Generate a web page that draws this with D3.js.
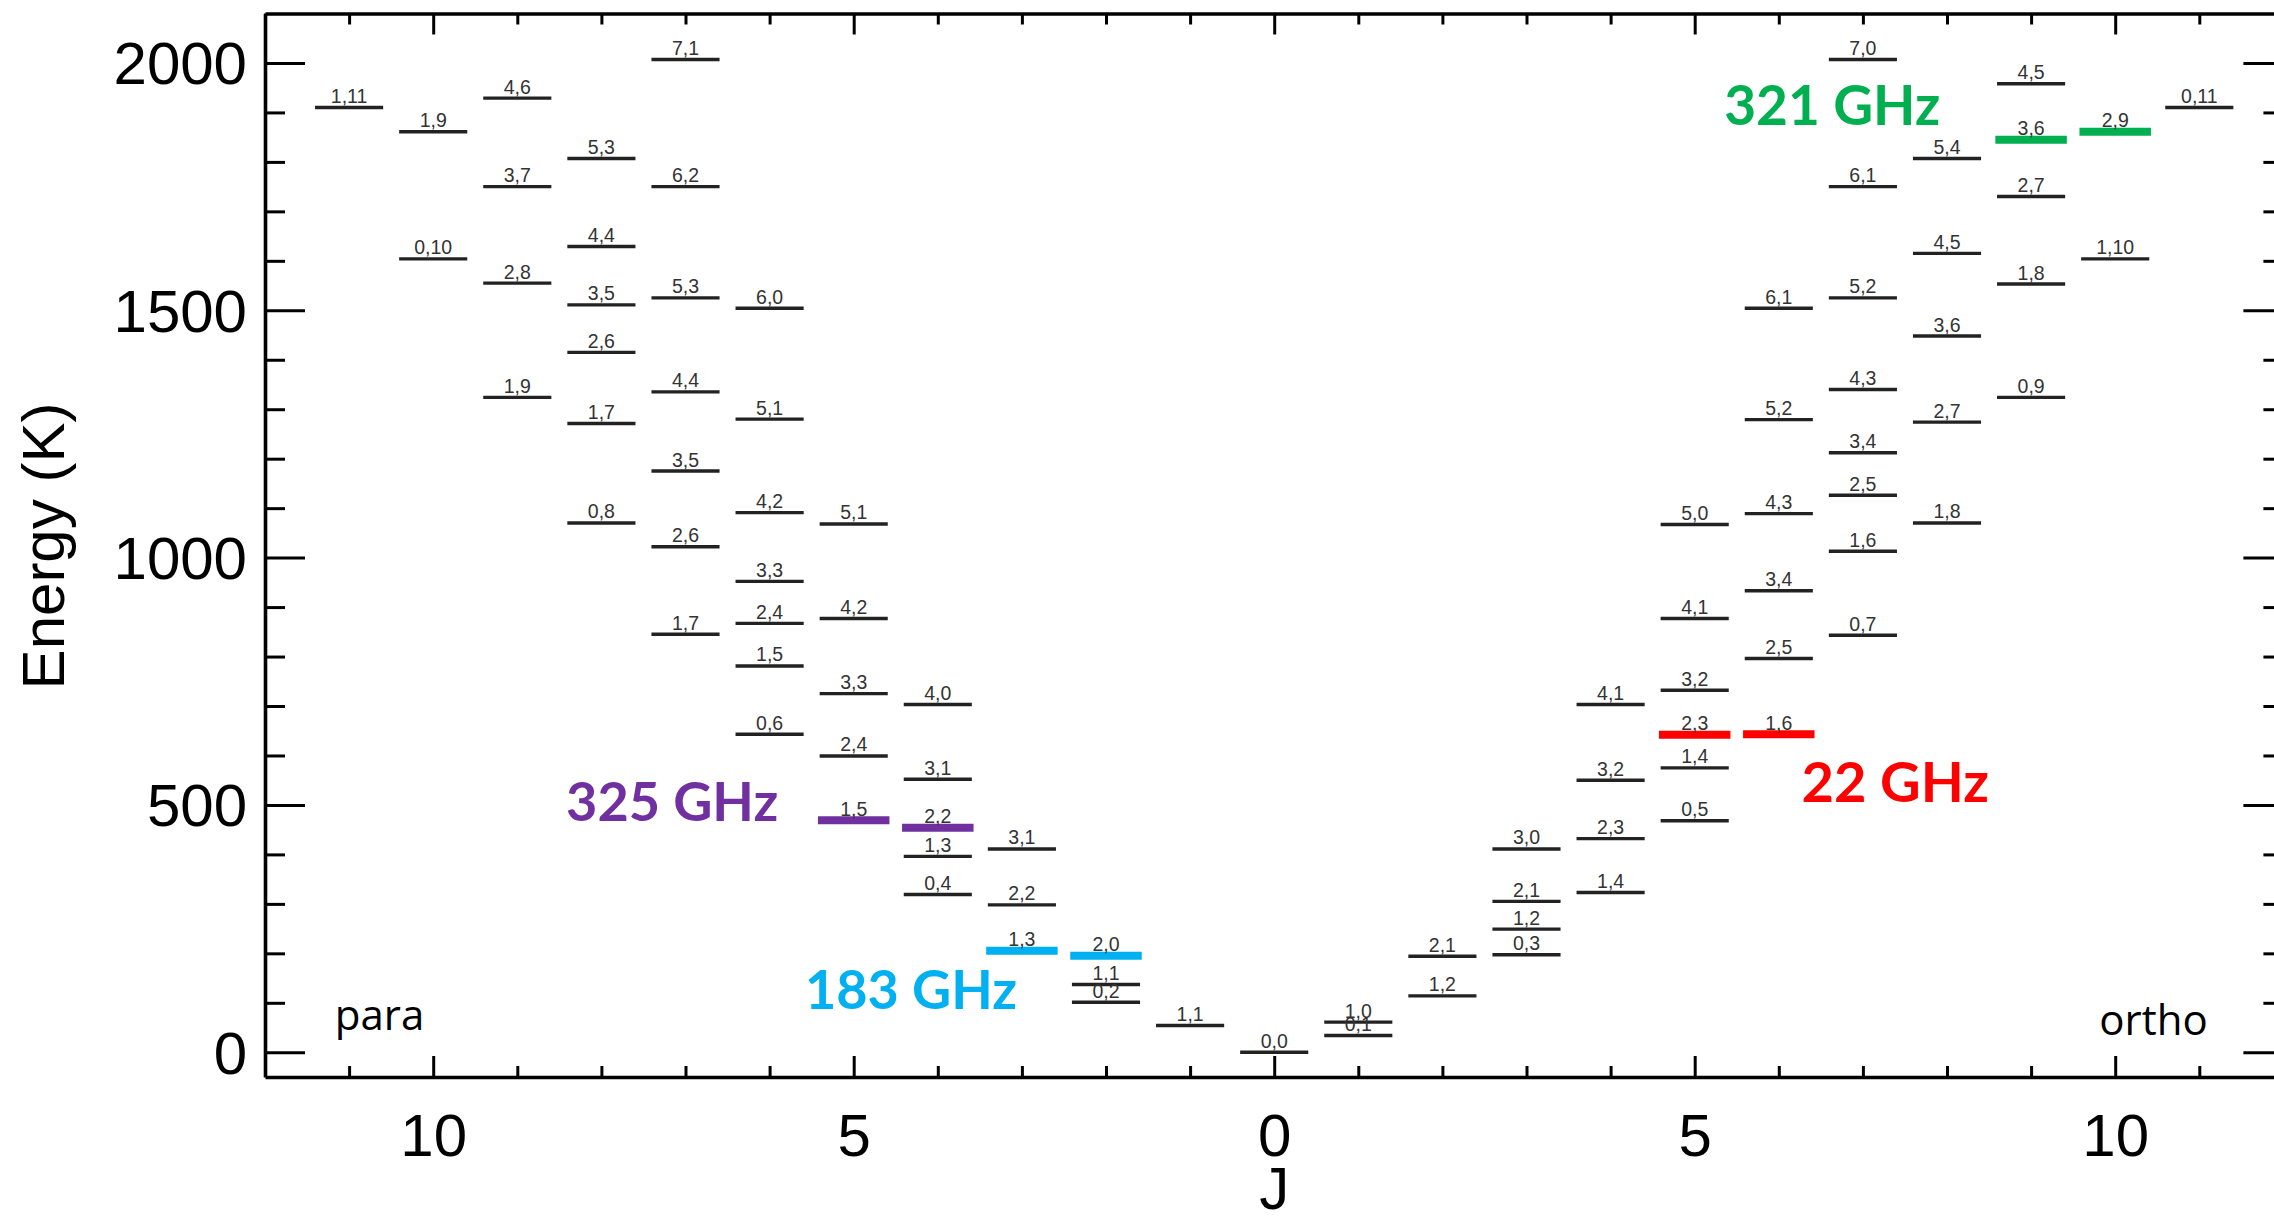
<!DOCTYPE html>
<html><head><meta charset="utf-8">
<script src="https://cdn.jsdelivr.net/npm/d3@7"></script>
<style>html,body{margin:0;padding:0;background:#fff;overflow:hidden}</style>
</head><body>
<svg id="chart" width="2274" height="1223"></svg>
<script>
// ---------- DATA ----------
// para levels (plotted on the left, at -J)
const paraJ     = [11, 10, 10, 9, 9, 9, 9, 8, 8, 8, 8, 8, 8, 7, 7, 7, 7, 7, 7, 7, 6, 6, 6, 6, 6, 6, 6, 5, 5, 5, 5, 5, 4, 4, 4, 4, 4, 3, 3, 3, 2, 2, 2, 1, 0];
const paraKaKc  = ["1,11","1,9","0,10","4,6","3,7","2,8","1,9","5,3","4,4","3,5","2,6","1,7","0,8","7,1","6,2","5,3","4,4","3,5","2,6","1,7","6,0","5,1","4,2","3,3","2,4","1,5","0,6","5,1","4,2","3,3","2,4","1,5","4,0","3,1","2,2","1,3","0,4","3,1","2,2","1,3","2,0","1,1","0,2","1,1","0,0"];
const paraE     = [1910, 1861, 1604, 1929, 1750, 1555, 1324, 1807, 1629, 1511, 1415, 1271, 1070, 2007, 1750, 1525, 1335, 1175, 1022, 845, 1504, 1280, 1091, 952, 867, 781, 643, 1068, 877, 725, 599, 469, 703, 552, 454, 396, 319, 411, 298, 205, 195, 137, 101, 54, 0];

// ortho levels (plotted on the right, at +J)
const orthoJ    = [1, 1, 2, 2, 3, 3, 3, 3, 4, 4, 4, 4, 5, 5, 5, 5, 5, 5, 6, 6, 6, 6, 6, 6, 7, 7, 7, 7, 7, 7, 7, 7, 8, 8, 8, 8, 8, 9, 9, 9, 9, 9, 10, 10, 11];
const orthoKaKc = ["1,0","0,1","2,1","1,2","3,0","2,1","1,2","0,3","4,1","3,2","2,3","1,4","5,0","4,1","3,2","2,3","1,4","0,5","6,1","5,2","4,3","3,4","2,5","1,6","7,0","6,1","5,2","4,3","3,4","2,5","1,6","0,7","5,4","4,5","3,6","2,7","1,8","4,5","3,6","2,7","1,8","0,9","2,9","1,10","0,11"];
const orthoE    = [61, 34, 194, 114, 411, 305, 249, 197, 703, 550, 432, 323, 1067, 877, 732, 642, 575, 468, 1504, 1279, 1089, 933, 796, 643, 2007, 1750, 1525, 1340, 1212, 1126, 1013, 843, 1807, 1615, 1448, 1274, 1070, 1958, 1845, 1730, 1553, 1324, 1861, 1604, 1910];

// highlighted maser transitions: upper and lower levels
const transitionNames  = ["325 GHz", "183 GHz", "22 GHz", "321 GHz"];
const transitionSpecies= ["para", "para", "ortho", "ortho"];
const transitionUpJ    = [5, 3, 6, 10];
const transitionUpK    = ["1,5", "1,3", "1,6", "2,9"];
const transitionLowJ   = [4, 2, 5, 9];
const transitionLowK   = ["2,2", "2,0", "2,3", "3,6"];

// axis ticks
const yMajorTicks = [0, 500, 1000, 1500, 2000];
const yMinorTicks = [0,100,200,300,400,500,600,700,800,900,1000,1100,1200,1300,1400,1500,1600,1700,1800,1900,2000];
const xMajorTicks = [-10, -5, 0, 5, 10];
const xMinorTicks = [-12,-11,-10,-9,-8,-7,-6,-5,-4,-3,-2,-1,0,1,2,3,4,5,6,7,8,9,10,11,12];
const xTickLabels = ["10", "5", "0", "5", "10"];
const speciesLabels = ["para", "ortho"];

// ---------- STYLE / LAYOUT ----------
const colors = {"325 GHz": "#7030A0", "183 GHz": "#00B0F0", "22 GHz": "#FF0000", "321 GHz": "#00B050"};
const annotAnchor = {   // data-space anchor of each annotation (left edge / baseline)
  "325 GHz": [-8.42, 468], "183 GHz": [-5.58, 88], "22 GHz": [6.27, 506], "321 GHz": [5.35, 1875]
};
const annotSize = {"325 GHz": 54, "183 GHz": 54, "22 GHz": 56, "321 GHz": 55};
const speciesAnchor = {"para": [-11.17, 45, "start"], "ortho": [11.10, 35, "end"]};

const svg = d3.select("#chart");
const x = d3.scaleLinear().domain([-12, 12]).range([265, 2283.4]);
const y = d3.scaleLinear().domain([-50, 2100]).range([1077, 13.5]);

const AXIS_FONT = "'Liberation Sans', Arial, Helvetica, sans-serif";

// ---------- LEVELS ----------
const levels = [];
paraJ.forEach((j, i) => levels.push({species: "para", J: j, k: paraKaKc[i], E: paraE[i], xv: -j}));
orthoJ.forEach((j, i) => levels.push({species: "ortho", J: j, k: orthoKaKc[i], E: orthoE[i], xv: j}));

const hl = new Map();
transitionNames.forEach((n, i) => {
  hl.set(transitionSpecies[i] + "|" + transitionUpJ[i] + "|" + transitionUpK[i], n);
  hl.set(transitionSpecies[i] + "|" + transitionLowJ[i] + "|" + transitionLowK[i], n);
});
levels.forEach(d => { d.hl = hl.get(d.species + "|" + d.J + "|" + d.k) || null; });

const halfW = 0.405;
const gLev = svg.append("g");
gLev.selectAll("line.lev").data(levels.filter(d => !d.hl)).join("line")
  .attr("class", "lev")
  .attr("x1", d => x(d.xv - halfW)).attr("x2", d => x(d.xv + halfW))
  .attr("y1", d => y(d.E)).attr("y2", d => y(d.E))
  .attr("stroke", "#222").attr("stroke-width", 3.4);
gLev.selectAll("line.hl").data(levels.filter(d => d.hl)).join("line")
  .attr("class", "hl")
  .attr("x1", d => x(d.xv - 0.425)).attr("x2", d => x(d.xv + 0.425))
  .attr("y1", d => y(d.E)).attr("y2", d => y(d.E))
  .attr("stroke", d => colors[d.hl]).attr("stroke-width", 8);
gLev.selectAll("text.lab").data(levels).join("text")
  .attr("class", "lab")
  .attr("transform", d => `translate(${x(d.xv)},${y(d.E) - 4.5}) scale(1,1.08)`)
  .attr("text-anchor", "middle")
  .attr("font-family", AXIS_FONT).attr("font-size", 19.5)
  .attr("fill", "#333")
  .text(d => d.k);

// ---------- AXES ----------
function styleAxis(g, sw) {
  g.selectAll("path.domain").attr("stroke", "#000").attr("stroke-width", sw);
  g.selectAll(".tick line").attr("stroke", "#000").attr("stroke-width", 3);
  g.selectAll("text").attr("fill", "#000").attr("font-family", AXIS_FONT).attr("font-size", 60);
}
const yMinorOnly = yMinorTicks.filter(v => !yMajorTicks.includes(v));
const xMinorOnly = xMinorTicks.filter(v => !xMajorTicks.includes(v));

// left
const gL = svg.append("g").attr("transform", `translate(${x(-12)},0)`)
  .call(d3.axisLeft(y).tickValues(yMajorTicks).tickSizeInner(-40).tickSizeOuter(0).tickPadding(18).tickFormat(d3.format("d")));
styleAxis(gL, 3.6);
gL.selectAll("text").attr("dy", "0.35em");
const gLm = svg.append("g").attr("transform", `translate(${x(-12)},0)`)
  .call(d3.axisLeft(y).tickValues(yMinorOnly).tickSizeInner(-20).tickSizeOuter(0).tickFormat(""));
styleAxis(gLm, 0); gLm.select("path.domain").remove();
// right
const gR = svg.append("g").attr("transform", `translate(${x(12)},0)`)
  .call(d3.axisRight(y).tickValues(yMajorTicks).tickSizeInner(-40).tickSizeOuter(0).tickFormat(""));
styleAxis(gR, 3.6);
const gRm = svg.append("g").attr("transform", `translate(${x(12)},0)`)
  .call(d3.axisRight(y).tickValues(yMinorOnly).tickSizeInner(-20).tickSizeOuter(0).tickFormat(""));
styleAxis(gRm, 0); gRm.select("path.domain").remove();
// bottom
const gB = svg.append("g").attr("transform", `translate(0,${y(-50)})`)
  .call(d3.axisBottom(x).tickValues(xMajorTicks).tickSizeInner(-21).tickSizeOuter(0).tickPadding(36)
    .tickFormat((d, i) => xTickLabels[i]));
styleAxis(gB, 3.6);
const gBm = svg.append("g").attr("transform", `translate(0,${y(-50)})`)
  .call(d3.axisBottom(x).tickValues(xMinorOnly).tickSizeInner(-11).tickSizeOuter(0).tickFormat(""));
styleAxis(gBm, 0); gBm.select("path.domain").remove();
// top
const gT = svg.append("g").attr("transform", `translate(0,${y(2100)})`)
  .call(d3.axisTop(x).tickValues(xMajorTicks).tickSizeInner(-21).tickSizeOuter(0).tickFormat(""));
styleAxis(gT, 3.6);
const gTm = svg.append("g").attr("transform", `translate(0,${y(2100)})`)
  .call(d3.axisTop(x).tickValues(xMinorOnly).tickSizeInner(-11).tickSizeOuter(0).tickFormat(""));
styleAxis(gTm, 0); gTm.select("path.domain").remove();

// axis titles
svg.append("text")
  .attr("transform", `translate(64,546) rotate(-90)`)
  .attr("text-anchor", "middle")
  .attr("font-family", AXIS_FONT).attr("font-size", 60).attr("fill", "#000")
  .text("Energy (K)");
svg.append("text")
  .attr("x", x(0)).attr("y", 1209)
  .attr("text-anchor", "middle")
  .attr("font-family", AXIS_FONT).attr("font-size", 60).attr("fill", "#000")
  .text("J");

// species labels
svg.selectAll("text.species").data(speciesLabels).join("text")
  .attr("class", "species")
  .attr("x", d => x(speciesAnchor[d][0])).attr("y", d => y(speciesAnchor[d][1]))
  .attr("text-anchor", d => speciesAnchor[d][2])
  .attr("font-family", "'Open Sans', sans-serif").attr("font-size", 42).attr("fill", "#000")
  .text(d => d);

// transition annotations
svg.selectAll("text.annot").data(transitionNames).join("text")
  .attr("class", "annot")
  .attr("x", d => x(annotAnchor[d][0])).attr("y", d => y(annotAnchor[d][1]))
  .attr("font-family", "Lato, 'Open Sans', sans-serif").attr("font-weight", 700)
  .attr("font-size", d => annotSize[d]).attr("fill", d => colors[d])
  .text(d => d);
</script>
</body></html>
